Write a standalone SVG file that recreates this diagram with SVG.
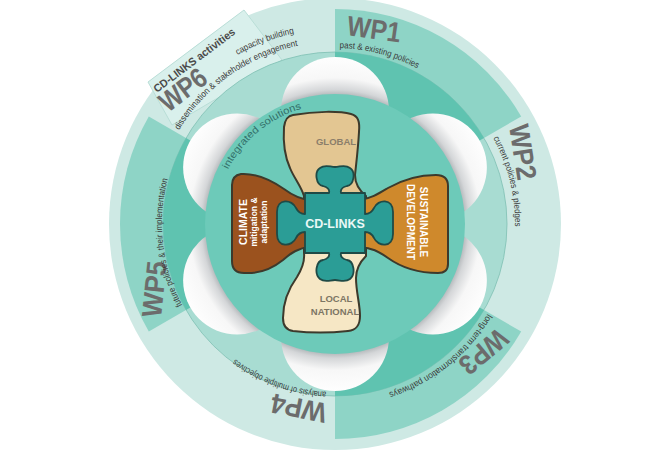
<svg xmlns="http://www.w3.org/2000/svg" width="670" height="451" viewBox="0 0 670 451">
<defs>
<style>
.wp{font-family:"Liberation Sans",Arial,sans-serif;font-weight:700;font-size:28px;fill:#6c6c6c}
.sub{font-family:"Liberation Sans",Arial,sans-serif;font-size:9px;fill:#3a3a3a}
.lobe{stroke:#3d3a2c;stroke-width:2;stroke-linejoin:round}
.pt{font-family:"Liberation Sans",Arial,sans-serif;font-weight:700;text-anchor:middle}
.petal{fill:url(#petalShade)}
.dark{fill:#8ed4c6}
.darkin{fill:#5fc3b0}
</style>
<radialGradient id="petalShade" gradientUnits="userSpaceOnUse" cx="335" cy="224" r="170">
<stop offset="0.74" stop-color="#9fa5a8"/>
<stop offset="0.79" stop-color="#d4d6d8"/>
<stop offset="0.86" stop-color="#f7f7f7"/>
<stop offset="1" stop-color="#ffffff"/>
</radialGradient>
<path id="pWP1" d="M 339.61 48.06 A 176 176 0 0 1 417.63 68.60"/>
<path id="pWP2" d="M 493.19 138.11 A 180 180 0 0 1 514.97 227.14"/>
<path id="pWP3" d="M 487.51 313.83 A 177 177 0 0 1 388.23 392.81"/>
<path id="pWP4" d="M 326.21 391.77 A 168 168 0 0 1 233.89 358.17"/>
<path id="pWP5" d="M 182.25 305.22 A 173 173 0 0 1 168.29 177.77"/>
<path id="pWP6a" d="M 179.0 130.26 A 182 182 0 0 1 298.71 45.65"/>
<path id="pWP6b" d="M 237.5 55.12 A 195 195 0 0 1 296.12 32.92"/>
<path id="pInt" d="M 228.08 169.52 A 120 120 0 0 1 302.93 108.36"/>
</defs>

<g id="rings">
<circle cx="335" cy="224" r="226" fill="#cee9e4"/>
<polygon id="tab" points="148,82 244,10 282,60 172,125" fill="#d9f0ec" stroke="#b9ded7" stroke-width="1"/>
<path class="dark" d="M335,224 L335,9 A215 215 0 0 1 521.2,116.5 Z"/>
<path class="dark" d="M335,224 L521.2,331.5 A215 215 0 0 1 335,439 Z"/>
<path class="dark" d="M335,224 L148.8,331.5 A215 215 0 0 1 148.8,116.5 Z"/>
<circle cx="335" cy="224" r="172" fill="#a8dcd2" stroke="#7dbfb3" stroke-width="0.8"/>
<path class="darkin" d="M335,224 L335,52 A172 172 0 0 1 483.95,138 Z"/>
<path class="darkin" d="M335,224 L483.95,310 A172 172 0 0 1 335,396 Z"/>
<path class="darkin" d="M335,224 L186.05,310 A172 172 0 0 1 186.05,138 Z"/>
<circle class="petal" cx="335" cy="111" r="54"/>
<circle class="petal" cx="432.86" cy="167.5" r="54"/>
<circle class="petal" cx="432.86" cy="280.5" r="54"/>
<circle class="petal" cx="335" cy="337" r="54"/>
<circle class="petal" cx="237.14" cy="280.5" r="54"/>
<circle class="petal" cx="237.14" cy="167.5" r="54"/>
<circle id="inner-disc" cx="335" cy="224" r="130" fill="#6dcab9"/>
</g>

<g id="wp1">
<text class="wp" transform="translate(346,35) rotate(8)" textLength="54" lengthAdjust="spacingAndGlyphs">WP1</text>
<text class="sub"><textPath href="#pWP1" textLength="81" lengthAdjust="spacingAndGlyphs">past &amp; existing policies</textPath></text>
</g>
<g id="wp2">
<text class="wp" transform="translate(509,126) rotate(81)" textLength="56" lengthAdjust="spacingAndGlyphs">WP2</text>
<text class="sub"><textPath href="#pWP2" textLength="92" lengthAdjust="spacingAndGlyphs">current policies &amp; pledges</textPath></text>
</g>
<g id="wp3">
<text class="wp" transform="translate(498,327) rotate(140)" textLength="54" lengthAdjust="spacingAndGlyphs">WP3</text>
<text class="sub"><textPath href="#pWP3" textLength="129" lengthAdjust="spacingAndGlyphs">long-term transformation pathways</textPath></text>
</g>
<g id="wp4">
<text class="wp" transform="translate(328,404) rotate(191)" textLength="56" lengthAdjust="spacingAndGlyphs">WP4</text>
<text class="sub"><textPath href="#pWP4" textLength="98" lengthAdjust="spacingAndGlyphs">analysis of multiple objectives</textPath></text>
</g>
<g id="wp5">
<text class="wp" transform="translate(161,318) rotate(-84)" textLength="56" lengthAdjust="spacingAndGlyphs">WP5</text>
<text class="sub"><textPath href="#pWP5" textLength="130" lengthAdjust="spacingAndGlyphs">future policies &amp; their implementation</textPath></text>
</g>
<g id="wp6">
<text class="wp" transform="translate(168,113) rotate(-37)" textLength="52" lengthAdjust="spacingAndGlyphs">WP6</text>
<text class="sub"><textPath href="#pWP6a" textLength="150" lengthAdjust="spacingAndGlyphs">dissemination &amp; stakeholder engagement</textPath></text>
<text class="sub"><textPath href="#pWP6b" textLength="61" lengthAdjust="spacingAndGlyphs">capacity building</textPath></text>
<text transform="translate(157,93) rotate(-37)" font-family="Liberation Sans, Arial, sans-serif" font-weight="700" font-size="11" fill="#4a4a4a" textLength="99" lengthAdjust="spacingAndGlyphs">CD-LINKS activities</text>
</g>

<g id="integrated">
<text font-family="Liberation Sans, Arial, sans-serif" font-size="10" fill="#33706a"><textPath href="#pInt" textLength="98" lengthAdjust="spacingAndGlyphs">integrated solutions</textPath></text>
</g>

<g id="global">
<path class="lobe" fill="#e3c692" d="M 293,115 C 315,111 340,111 351,114 C 358,116 360,121 359,132 C 358,150 356,165 355,175 C 355,185 360,191 366,196 L 366,203 L 304,203 L 304,196 C 301,186 294,178 290,168 C 285,157 283,142 284,127 C 285,120 287,116 293,115 Z"/>
<text class="pt" x="336" y="145" font-size="9.5" fill="#8b7e6a">GLOBAL</text>
</g>
<g id="climate">
<path class="lobe" fill="#9b521e" d="M 241,174 C 256,173 271,180 284,189 C 292,195 299,199 310,200 L 310,247 C 298,248 291,253 283,260 C 273,268 259,274 244,273 C 236,273 232,269 232,261 L 232,185 C 232,178 235,175 241,174 Z"/>
<g transform="translate(247,222) rotate(-90)" fill="#ffffff">
<text class="pt" x="0" y="0" font-size="10.5">CLIMATE</text>
<text class="pt" x="0" y="10" font-size="8.5">mitigation &amp;</text>
<text class="pt" x="0" y="20" font-size="8.5">adaptation</text>
</g>
</g>
<g id="sustainable">
<path class="lobe" fill="#cf892c" d="M 360,200 C 372,198 378,194 388,188 C 402,180 418,175 436,175 C 444,175 448,179 448,186 L 448,264 C 448,270 445,273 438,273 C 418,273 402,268 388,258 C 378,251 372,248 360,247 Z"/>
<g transform="translate(420,222) rotate(90)" fill="#ffffff">
<text class="pt" x="0" y="0" font-size="10">SUSTAINABLE</text>
<text class="pt" x="0" y="13" font-size="10">DEVELOPMENT</text>
</g>
</g>
<g id="local">
<path class="lobe" fill="#f6e7c5" d="M 304,248 L 366,248 L 366,256 C 360,262 356,268 356,278 C 356,292 360,304 360,316 C 360,326 356,330 348,331 C 330,333 310,333 293,331 C 286,330 283,326 283,318 C 283,302 289,288 297,277 C 302,269 305,262 304,253 Z"/>
<text class="pt" x="336" y="302" font-size="9.5" fill="#7c7564">LOCAL</text>
<text class="pt" x="335" y="315" font-size="9.5" fill="#7c7564">NATIONAL</text>
</g>
<g id="cdlinks">
<path fill="#2b9d96" stroke="#1f4a46" stroke-width="1.8" stroke-linejoin="round" d="M 305,193 L 329,193 C 330,189 327,187 323,186 C 316,185 314,172 320,168 C 325,164 330,167 335,167 C 340,167 345,164 350,168 C 356,172 354,185 347,186 C 343,187 340,189 341,193 L 365,193 L 365,214 C 369,214 372,212 374,208 C 378,199 393,198 393,212 L 393,234 C 393,248 378,247 374,238 C 372,234 369,232 365,232 L 365,253 L 341,253 C 340,257 343,259 347,260 C 354,261 356,274 350,279 C 345,283 340,280 335,280 C 330,280 325,283 320,279 C 314,274 316,261 323,260 C 327,259 330,257 329,253 L 305,253 L 305,232 C 301,232 298,234 296,238 C 292,247 277,248 277,234 L 277,212 C 277,198 292,199 296,208 C 298,212 301,214 305,214 Z"/>
<text class="pt" x="335" y="228" font-size="12.5" fill="#eaf8f6">CD-LINKS</text>
</g>
</svg>
